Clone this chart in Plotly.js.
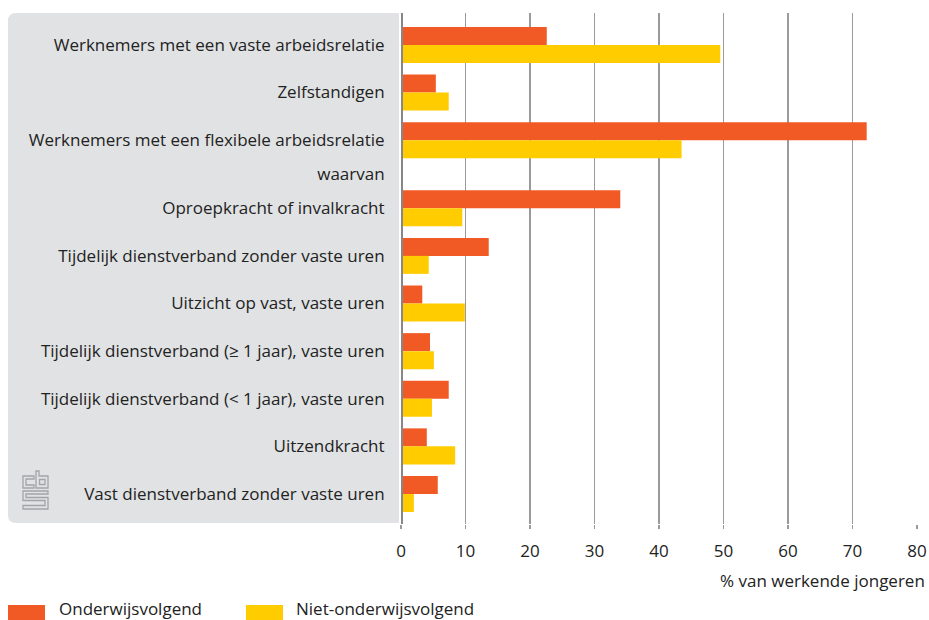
<!DOCTYPE html>
<html>
<head>
<meta charset="utf-8">
<script src="https://cdn.plot.ly/plotly-3.0.1.min.js"></script>
<style>html,body{margin:0;padding:0;background:#fff;}#chart{width:929px;height:620px;}</style>
</head>
<body>
<div id="chart"></div>
<script>
// ---- data ----
var categories = [
  "Werknemers met een vaste arbeidsrelatie",
  "Zelfstandigen",
  "Werknemers met een flexibele arbeidsrelatie",
  "waarvan",
  "Oproepkracht of invalkracht",
  "Tijdelijk dienstverband zonder vaste uren",
  "Uitzicht op vast, vaste uren",
  "Tijdelijk dienstverband (\u2265 1 jaar), vaste uren",
  "Tijdelijk dienstverband (< 1 jaar), vaste uren",
  "Uitzendkracht",
  "Vast dienstverband zonder vaste uren"
];
var onderwijsvolgend     = [22.6, 5.4, 72.2, null, 34.0, 13.6, 3.3, 4.5, 7.4, 4.0, 5.7];
var nietOnderwijsvolgend = [49.5, 7.4, 43.5, null, 9.5, 4.3, 9.9, 5.1, 4.8, 8.4, 2.0];
var seriesNames = ["Onderwijsvolgend", "Niet-onderwijsvolgend"];
var xTicks = [0, 10, 20, 30, 40, 50, 60, 70, 80];
var xTitle = "% van werkende jongeren";
var headingRows = ["waarvan"];

// ---- layout helpers ----
var W = 929, H = 620;
var M = {l: 401, r: 12, t: 13, b: 96};
var PW = W - M.l - M.r, PH = H - M.t - M.b;
function px(x){ return (x - M.l) / PW; }
function py(y){ return 1 - (y - M.t) / PH; }
function path(pts, close){
  return pts.map(function(p, i){ return (i ? 'L' : 'M') + px(p[0]) + ',' + py(p[1]); }).join(' ') + (close ? ' Z' : '');
}

// row positions: heading rows take a smaller slot
var weights = categories.map(function(c){ return headingRows.indexOf(c) >= 0 ? 0.43 : 1; });
var pos = [0];
for (var i = 1; i < categories.length; i++) pos.push(pos[i-1] + (weights[i-1] + weights[i]) / 2);
var barW = 0.378;

var red = '#f15a24', yellow = '#ffcc00', grey = '#e1e2e4';
var font = 'Open Sans, sans-serif';

var traces = [
  {type: 'bar', orientation: 'h', name: seriesNames[0], x: onderwijsvolgend, y: pos,
   width: barW, offset: -barW, marker: {color: red}, hoverinfo: 'skip', showlegend: false},
  {type: 'bar', orientation: 'h', name: seriesNames[1], x: nietOnderwijsvolgend, y: pos,
   width: barW, offset: 0, marker: {color: yellow}, hoverinfo: 'skip', showlegend: false}
];

var shapes = [];
// grey label panel with rounded left corners
var r = 8, L0 = 8, R0 = 399, T0 = 13, B0 = 523;
shapes.push({type: 'path', xref: 'paper', yref: 'paper', layer: 'below', line: {width: 0}, fillcolor: grey,
  path: 'M' + px(R0) + ',' + py(T0) + ' L' + px(L0 + r) + ',' + py(T0) +
        ' Q' + px(L0) + ',' + py(T0) + ' ' + px(L0) + ',' + py(T0 + r) +
        ' L' + px(L0) + ',' + py(B0 - r) +
        ' Q' + px(L0) + ',' + py(B0) + ' ' + px(L0 + r) + ',' + py(B0) +
        ' L' + px(R0) + ',' + py(B0) + ' Z'});
// axis line at zero
shapes.push({type: 'line', xref: 'x', yref: 'paper', x0: 0, x1: 0, y0: 0, y1: 1, layer: 'above',
  line: {color: '#87878a', width: 4}});
// cbs logo
var lg = {type: 'path', xref: 'paper', yref: 'paper', layer: 'above', line: {color: '#a3a4a6', width: 1.3}, fillcolor: 'rgba(0,0,0,0)'};
function logo(pts){ var s = Object.assign({}, lg); s.path = path(pts, true); shapes.push(s); }
logo([[34,476],[23,476],[23,488],[34,488],[34,485],[26,485],[26,479],[34,479]]);
logo([[36,471],[39,471],[39,476],[48,476],[48,488],[36,488]]);
logo([[39.5,479.5],[45,479.5],[45,484.5],[39.5,484.5]]);
logo([[48,491],[23,491],[23,500.5],[45,500.5],[45,505.5],[23,505.5],[23,509],[48,509],[48,497.5],[26,497.5],[26,494],[48,494]]);
// legend swatches
shapes.push({type: 'rect', xref: 'paper', yref: 'paper', x0: px(8), x1: px(45), y0: py(605), y1: py(622), line: {width: 0}, fillcolor: red});
shapes.push({type: 'rect', xref: 'paper', yref: 'paper', x0: px(246), x1: px(283), y0: py(605), y1: py(622), line: {width: 0}, fillcolor: yellow});

var annotations = [
  {xref: 'paper', yref: 'paper', x: px(927), y: py(580), xanchor: 'right', yanchor: 'middle', showarrow: false,
   text: xTitle, font: {family: font, size: 17, color: '#222'}},
  {xref: 'paper', yref: 'paper', x: px(57), y: py(608), xanchor: 'left', yanchor: 'middle', showarrow: false,
   text: seriesNames[0], font: {family: font, size: 17, color: '#222'}},
  {xref: 'paper', yref: 'paper', x: px(294), y: py(608), xanchor: 'left', yanchor: 'middle', showarrow: false,
   text: seriesNames[1], font: {family: font, size: 17, color: '#222'}}
];

var layout = {
  width: W, height: H, margin: M,
  paper_bgcolor: '#fff', plot_bgcolor: '#fff',
  barmode: 'overlay', showlegend: false, hovermode: false,
  font: {family: font, color: '#222'},
  xaxis: {range: [0, 80], tickvals: xTicks, ticktext: xTicks.map(String), showgrid: true,
    gridcolor: '#9a9a9a', gridwidth: 1.2, zeroline: false, showline: false,
    ticks: 'outside', ticklen: 4, tickcolor: '#9a9a9a', tickwidth: 1.2, ticklabelstandoff: 8,
    tickfont: {family: font, size: 17, color: '#222'}, fixedrange: true},
  yaxis: {range: [pos[pos.length-1] + 0.63, -0.67], tickvals: pos, ticktext: categories,
    showgrid: false, zeroline: false, showline: false,
    ticks: 'outside', ticklen: 12, tickcolor: 'rgba(0,0,0,0)',
    tickfont: {family: font, size: 17, color: '#222'}, fixedrange: true},
  shapes: shapes, annotations: annotations
};

Plotly.newPlot('chart', traces, layout, {displayModeBar: false, staticPlot: true});
</script>
</body>
</html>
